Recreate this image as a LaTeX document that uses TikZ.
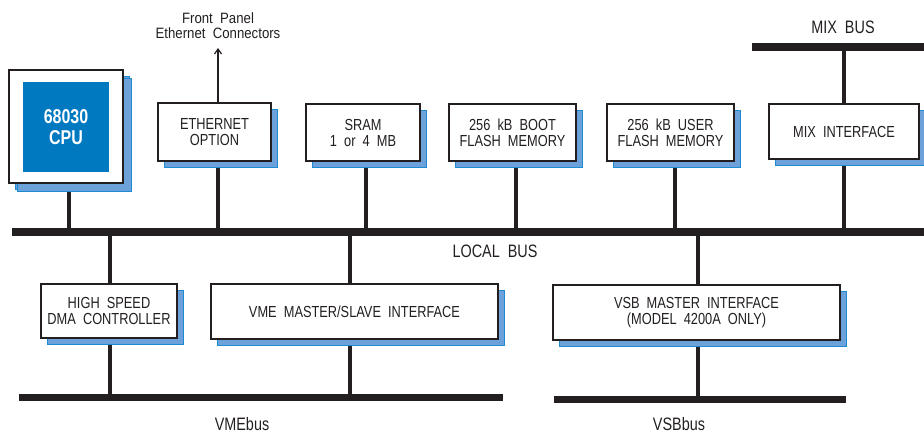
\documentclass[tikz,border=0pt]{standalone}
\usepackage{fontspec}
\setmainfont{Liberation Sans}[FakeStretch=0.8]
\newfontfamily\fpfont{Liberation Sans}[FakeStretch=0.88]
\usetikzlibrary{shadows,arrows.meta}
\definecolor{ink}{HTML}{231F20}
\definecolor{cpublue}{HTML}{0079C1}
\definecolor{shblue}{HTML}{6CA1D9}
\definecolor{shedge}{HTML}{1E8AD2}
\tikzset{
  blk/.style={draw=ink, line width=1.2pt, fill=white, align=center, inner sep=0pt,
    font=\fontsize{16}{16}\selectfont, text=ink,
    general shadow={shadow xshift=6pt, shadow yshift=-6pt, fill=shblue, draw=shedge, line width=0.8pt}},
  busbar/.style={fill=ink, draw=none, inner sep=0pt, minimum height=8pt},
  stem/.style={draw=ink, line width=4.5pt},
  lbl/.style={font=\fontsize{18}{20}\selectfont, text=ink, inner sep=0pt}
}
\begin{document}
\begin{tikzpicture}[x=1pt,y=-1pt]
\useasboundingbox (0,0) rectangle (924,433);
% buses
\node[busbar, minimum width=912pt] (localbus) at (468,232) {};
\node[busbar, minimum width=172pt] (mixbus) at (838,47) {};
\node[busbar, minimum width=484pt, minimum height=7.5pt] (vmebus) at (261,397.5) {};
\node[busbar, minimum width=292pt, minimum height=7.5pt] (vsbbus) at (700,399.5) {};
% box positions
\coordinate (cpuc) at (66,126.5);
\coordinate (ethc) at (214.5,132);
\coordinate (sramc) at (363,132.5);
\coordinate (bootc) at (512.5,132.5);
\coordinate (userc) at (670.5,132.5);
\coordinate (mixc) at (844,131.5);
\coordinate (dmac) at (109,311);
\coordinate (vmec) at (354.5,311.5);
\coordinate (vsbc) at (696.5,312.5);
% stems
\draw[stem] ([xshift=3pt]cpuc) -- ([xshift=3pt]cpuc |- localbus.center);
\draw[stem] ([xshift=3.5pt]ethc) -- ([xshift=3.5pt]ethc |- localbus.center);
\draw[stem] ([xshift=3pt]sramc) -- ([xshift=3pt]sramc |- localbus.center);
\draw[stem] ([xshift=3.5pt]bootc) -- ([xshift=3.5pt]bootc |- localbus.center);
\draw[stem] ([xshift=4.5pt]userc) -- ([xshift=4.5pt]userc |- localbus.center);
\draw[stem] (mixc |- mixbus.center) -- (mixc |- localbus.center);
\draw[stem] ([xshift=1pt]dmac |- localbus.center) -- ([xshift=1pt]dmac |- vmebus.center);
\draw[stem] ([xshift=-4.5pt]vmec |- localbus.center) -- ([xshift=-4.5pt]vmec |- vmebus.center);
\draw[stem] ([xshift=1.5pt]vsbc |- localbus.center) -- ([xshift=1.5pt]vsbc |- vsbbus.center);
% boxes
\node[blk, minimum width=114pt, minimum height=113pt,
  general shadow={shadow xshift=8pt, shadow yshift=-8pt, fill=shblue, draw=shedge, line width=0.8pt}] (cpu) at (cpuc) {};
\node[fill=cpublue, minimum width=86pt, minimum height=90pt, inner sep=0pt, align=center,
  text=white, font=\bfseries\fontsize{20}{21}\selectfont] (cpuchip) at (66,127) {68030\\CPU};
\node[blk, minimum width=113pt, minimum height=58pt] (eth) at (ethc) {ETHERNET\\OPTION};
\node[blk, minimum width=114pt, minimum height=57pt] (sram) at (sramc) {SRAM\\1\ \ or\ \ 4\ \ MB};
\node[blk, minimum width=127pt, minimum height=57pt] (boot) at (bootc) {256\ \ kB\ \ BOOT\\FLASH\ \ MEMORY};
\node[blk, minimum width=127pt, minimum height=57pt] (user) at (userc) {256\ \ kB\ \ USER\\FLASH\ \ MEMORY};
\node[blk, minimum width=150pt, minimum height=55pt] (mix) at (mixc) {MIX\ \ INTERFACE};
\node[blk, minimum width=136pt, minimum height=54pt] (dma) at (dmac) {HIGH\ \ SPEED\\DMA\ \ CONTROLLER};
\node[blk, minimum width=287pt, minimum height=55pt] (vme) at (vmec) {VME\ \ MASTER/SLAVE\ \ INTERFACE};
\node[blk, minimum width=287pt, minimum height=55pt] (vsb) at (vsbc) {VSB\ \ MASTER\ \ INTERFACE\\(MODEL\ \ 4200A\ \ ONLY)};
% front panel arrow
\node[text=ink, align=center, inner sep=0pt, font=\fpfont\fontsize{15}{15}\selectfont] (fp) at (218,25.5) {Front\ \ Panel\\Ethernet\ \ Connectors};
\coordinate (fptip) at (218,48);
\draw[ink, line width=1.2pt, -{Straight Barb[length=5pt,width=7pt]}] ([xshift=3.5pt]eth.north) -- (fptip);
% labels
\node[lbl] (llocal) at (495,251) {LOCAL\ \ BUS};
\node[lbl] (lmix) at (843,27) {MIX\ \ BUS};
\node[lbl] (lvme) at (242,424) {VMEbus};
\node[lbl] (lvsb) at (679,424) {VSBbus};
\end{tikzpicture}
\end{document}
